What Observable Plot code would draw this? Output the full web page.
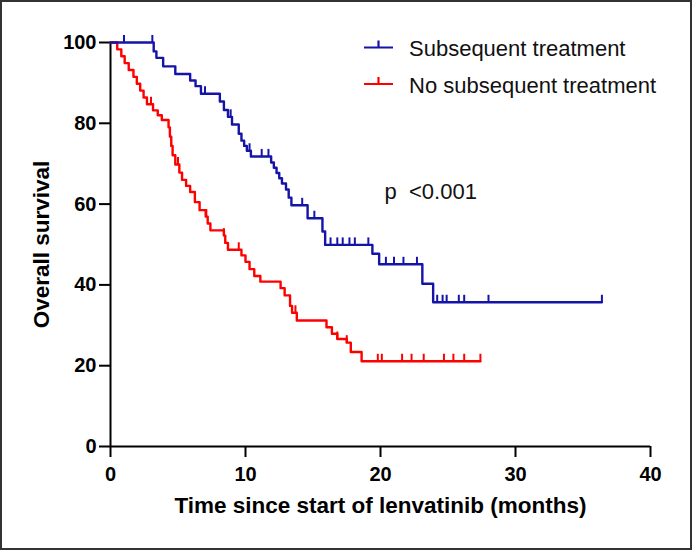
<!DOCTYPE html>
<html>
<head>
<meta charset="utf-8">
<script src="https://cdn.jsdelivr.net/npm/d3@7"></script>
<script src="https://cdn.jsdelivr.net/npm/@observablehq/plot@0.6"></script>
<style>
  html, body { margin: 0; padding: 0; background: #fff; }
  #wrap { position: relative; width: 692px; height: 550px; overflow: hidden; background: #fff; }
  #wrap svg { position: absolute; left: 0; top: 0; }
  #border { position: absolute; left: 0; top: 0; width: 692px; height: 550px; box-sizing: border-box; border: 2px solid #333; pointer-events: none; }
</style>
</head>
<body>
<div id="wrap"><div id="border"></div></div>
<script>
// ---- data ----
const seriesNames = ["Subsequent treatment", "No subsequent treatment"];
const seriesColors = ["#1414a8", "#ff0000"];

// Subsequent treatment: step times (months) and survival (%)
const blueTimes = [0, 3.2, 3.4, 3.9, 4.8, 5.9, 6.3, 6.7, 8.1, 8.4, 8.7, 9.0, 9.5, 9.7, 9.9, 10.1, 10.4, 11.9, 12.1, 12.3, 12.5, 12.7, 13.0, 13.2, 13.4, 14.6, 15.7, 15.9, 19.4, 19.9, 23.1, 23.9, 36.4];
const blueSurv  = [100, 97.8, 96.2, 94.1, 92.2, 90.6, 89.2, 87.3, 85.4, 83.3, 81.6, 79.7, 77.4, 75.7, 74.4, 73.2, 71.8, 70.3, 69.0, 67.7, 66.4, 65.1, 63.6, 61.6, 59.7, 56.5, 53.2, 49.9, 47.7, 45.1, 40.3, 35.7, 35.7];
const blueCensor = [1.0, 3.1, 7.0, 8.9, 10.3, 11.2, 11.7, 14.2, 15.1, 16.3, 16.8, 17.2, 17.7, 18.1, 19.1, 20.4, 21.0, 21.7, 22.7, 24.2, 24.6, 24.9, 25.8, 26.2, 28.0, 36.4];

// No subsequent treatment
const redTimes = [0, 0.5, 0.8, 1.05, 1.35, 1.7, 1.95, 2.2, 2.45, 2.7, 3.15, 3.5, 3.8, 4.3, 4.4, 4.5, 4.6, 4.8, 5.1, 5.3, 5.6, 5.9, 6.25, 6.6, 7.05, 7.2, 7.4, 8.4, 8.5, 8.7, 9.7, 10.0, 10.3, 10.65, 11.1, 12.6, 12.9, 13.3, 13.45, 13.8, 16.0, 16.4, 16.8, 17.5, 17.8, 18.6, 27.4];
const redSurv  = [100, 98.3, 96.6, 94.9, 93.2, 91.5, 89.8, 88.1, 86.4, 84.7, 83.2, 82.0, 80.8, 79.0, 76.7, 74.4, 72.1, 69.8, 67.8, 66.0, 64.5, 63.0, 60.5, 58.5, 56.9, 55.2, 53.5, 52.2, 50.4, 48.7, 47.3, 45.7, 43.9, 42.2, 40.8, 39.2, 37.4, 34.8, 33.1, 31.2, 29.5, 27.9, 26.6, 25.7, 23.4, 21.1, 21.1];
const redCensor = [3.0, 5.0, 7.1, 8.4, 9.5, 13.7, 16.8, 17.5, 19.8, 20.1, 21.6, 22.3, 23.2, 24.7, 25.4, 26.2, 27.4];

const xTicks = [0, 10, 20, 30, 40];
const yTicks = [0, 20, 40, 60, 80, 100];
const xTitle = "Time since start of lenvatinib (months)";
const yTitle = "Overall survival";
const pText = "p  <0.001";

// ---- build tables ----
function steps(times, surv) { return times.map((t, i) => ({t, s: surv[i]})); }
function survAt(times, surv, t) {
  let v = surv[0];
  for (let i = 0; i < times.length; i++) if (times[i] <= t) v = surv[i];
  return v;
}
const blueSteps = steps(blueTimes, blueSurv);
const redSteps = steps(redTimes, redSurv);
const blueCens = blueCensor.map(t => ({t, s: survAt(blueTimes, blueSurv, t)}));
const redCens = redCensor.map(t => ({t, s: survAt(redTimes, redSurv, t)}));

const tickSymbol = { draw(ctx) { ctx.moveTo(0, 0); ctx.lineTo(0, -7.5); } };
const font = "'Liberation Sans', Arial, Helvetica, sans-serif";

const chart = Plot.plot({
  width: 692,
  height: 550,
  marginLeft: 110,
  marginRight: 42,
  marginTop: 42,
  marginBottom: 104,
  style: { fontFamily: font, background: "transparent", color: "#000" },
  x: { domain: [0, 40] },
  y: { domain: [0, 100] },
  marks: [
    Plot.axisY({ ticks: yTicks, tickSize: 11, tickPadding: 3, strokeWidth: 2, fontSize: 20, fontWeight: "bold", label: null, tickFormat: d => String(d) }),
    Plot.axisX({ ticks: xTicks, tickSize: 11, tickPadding: 9, strokeWidth: 2, fontSize: 20, fontWeight: "bold", label: null, tickFormat: d => String(d) }),
    Plot.ruleX([0], { y1: 0, y2: 100, strokeWidth: 2, stroke: "#000" }),
    Plot.ruleY([0], { strokeWidth: 2, stroke: "#000" }),
    Plot.text([xTitle], { frameAnchor: "bottom", lineAnchor: "middle", textAnchor: "middle", dy: 59, fontSize: 22.5, fontWeight: "bold", fill: "#000" }),
    Plot.text([yTitle], { frameAnchor: "left", lineAnchor: "middle", textAnchor: "middle", dx: -69, rotate: -90, fontSize: 22.5, fontWeight: "bold", fill: "#000" }),
    Plot.text([pText], { frameAnchor: "top-left", lineAnchor: "middle", textAnchor: "start", dx: 274, dy: 149, fontSize: 22, fill: "#111" }),
    Plot.line(redSteps, { x: "t", y: "s", curve: "step-after", stroke: seriesColors[1], strokeWidth: 2.4 }),
    Plot.dot(redCens, { x: "t", y: "s", symbol: tickSymbol, stroke: seriesColors[1], fill: "none", strokeWidth: 2, r: 4 }),
    Plot.line(blueSteps, { x: "t", y: "s", curve: "step-after", stroke: seriesColors[0], strokeWidth: 2.4 }),
    Plot.dot(blueCens, { x: "t", y: "s", symbol: tickSymbol, stroke: seriesColors[0], fill: "none", strokeWidth: 2, r: 4 })
  ]
});
const wrap = document.getElementById("wrap");
wrap.insertBefore(chart, wrap.firstChild);

// ---- legend overlay ----
const leg = d3.select(wrap).append("svg")
  .attr("width", 692).attr("height", 550)
  .style("position", "absolute").style("left", 0).style("top", 0)
  .style("pointer-events", "none");
seriesNames.forEach((name, i) => {
  const y = 47.5 + i * 36.5;
  const g = leg.append("g").attr("transform", `translate(364,${y})`);
  g.append("path").attr("d", "M0,0H29M14.5,0V-7")
    .attr("fill", "none").attr("stroke", seriesColors[i]).attr("stroke-width", 2.2);
  leg.append("text").attr("x", 409).attr("y", y + 8.5)
    .attr("font-family", font).attr("font-size", 22).attr("fill", "#111")
    .text(name);
});
</script>
</body>
</html>
